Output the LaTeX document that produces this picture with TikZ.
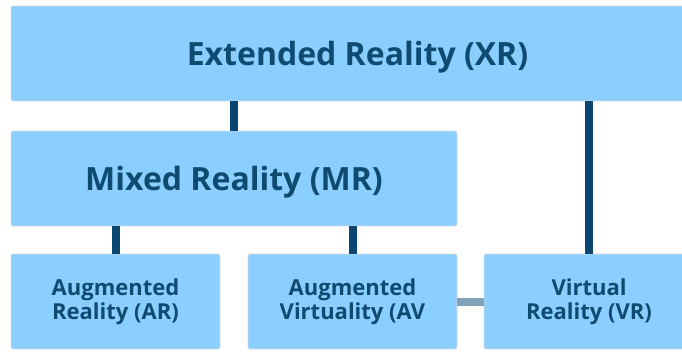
\documentclass[tikz,border=0pt]{standalone}
\usepackage{fontspec}
\setmainfont{Open Sans}
\definecolor{boxblue}{HTML}{8ACFFF}
\definecolor{textblue}{HTML}{0F4A70}
\definecolor{linkblue}{HTML}{0B4670}
\definecolor{linkgrey}{HTML}{80A1B8}
\tikzset{
    realm/.style={fill=boxblue, draw=black!15, line width=0.6pt, rounded corners=2pt,
        text=textblue, font=\bfseries, align=center, inner sep=0pt,
        minimum height=95pt},
    bigrealm/.style={realm, text depth=0pt, font=\bfseries\fontsize{32}{38}\selectfont},
    smallrealm/.style={realm, minimum width=209pt, font=\bfseries\fontsize{22}{24}\selectfont},
    link/.style={draw=linkblue, line width=8pt},
    sidelink/.style={draw=linkgrey, line width=8pt},
}
\begin{document}
\begin{tikzpicture}[x=1pt, y=-1pt]
    \useasboundingbox (0,0) rectangle (682,351);
    \node[bigrealm, minimum width=693pt] (xr) at (357.5,53.5) {Extended Reality (XR)};
    \node[bigrealm, minimum width=446pt] (mr) at (234,178.5) {Mixed Reality (MR)};
    \node[smallrealm] (ar) at (115.5,301.5) {Augmented\\Reality (AR)};
    \node[smallrealm] (av) at (352.5,301.5) {Augmented\\Virtuality (AV};
    \node[smallrealm, minimum width=210pt] (vr) at (589,301.5) {Virtual\\Reality (VR)};
    % connectors
    \draw[link] (xr.south -| mr.north) -- (mr.north);
    \draw[link] (vr.north) -- (vr.north |- xr.south);
    \draw[link] (ar.north) -- (ar.north |- mr.south);
    \draw[link] (av.north) -- (av.north |- mr.south);
    \draw[sidelink] (av.east) -- (vr.west);
\end{tikzpicture}
\end{document}
